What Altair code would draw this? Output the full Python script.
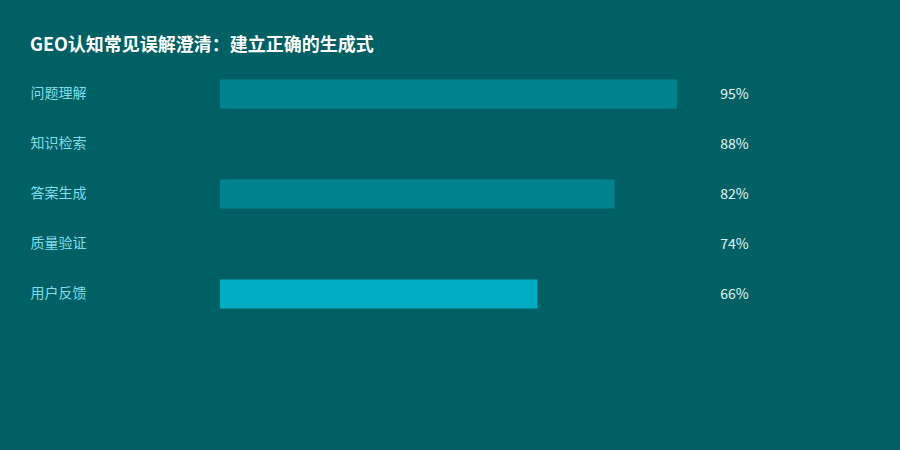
import altair as alt
import pandas as pd

title_text = "GEO认知常见误解澄清：建立正确的生成式"
categories = ["问题理解", "知识检索", "答案生成", "质量验证", "用户反馈"]
values = [95, 88, 82, 74, 66]
bar_colors = ["#00838F", "#006064", "#00838F", "#006064", "#00ACC1"]
value_labels = [f"{v}%" for v in values]

df = pd.DataFrame({"cat": categories, "val": values, "lbl": value_labels})

FONT = "Noto Sans CJK SC"
BG = "#006064"

y_enc = alt.Y(
    "cat:N",
    sort=categories,
    title=None,
    scale=alt.Scale(paddingInner=0, paddingOuter=0),
    axis=alt.Axis(
        domain=False, ticks=False, grid=False,
        labelAlign="left", labelPadding=190,
        labelColor="#80DEEA", labelFontSize=14, labelFont=FONT,
    ),
)

bars = alt.Chart(df).mark_bar(size=29).encode(
    x=alt.X("val:Q", scale=alt.Scale(domain=[0, 100], nice=False), axis=None),
    y=y_enc,
    color=alt.Color("cat:N", scale=alt.Scale(domain=categories, range=bar_colors), legend=None),
)

texts = alt.Chart(df).mark_text(
    align="left", baseline="middle", color="#E0F7FA", fontSize=14, font=FONT, dy=1
).encode(
    x=alt.datum(104),
    y=alt.Y("cat:N", sort=categories),
    text="lbl:N",
)

chart = alt.layer(bars, texts).properties(
    width=481,
    height=250,
    autosize=alt.AutoSizeParams(type="none"),
    padding={"left": 212, "top": 61, "right": 191, "bottom": 123},
    background=BG,
    title=alt.TitleParams(
        title_text, anchor="start", offset=14,
        color="#FFFFFF", fontSize=18, fontWeight="bold", font=FONT,
    ),
).configure_view(stroke=None)

chart.save("out.html", embed_options={"renderer": "svg", "actions": False})

# paint the page margin in the chart's background colour
with open("out.html", encoding="utf-8") as f:
    html = f.read()
html = html.replace("<head>", "<head><style>body{background:%s;}</style>" % BG, 1)
with open("out.html", "w", encoding="utf-8") as f:
    f.write(html)
